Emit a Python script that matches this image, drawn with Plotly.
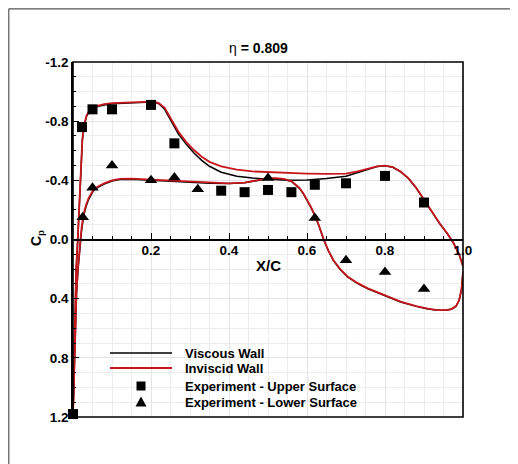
import plotly.graph_objects as go

# ---------------- data ----------------
title_text = "η <b>= 0.809</b>"

# Inviscid wall, upper surface
up_x_inv = [0.0, 0.003, 0.005, 0.008, 0.012, 0.016, 0.020, 0.024, 0.029, 0.035, 0.042, 0.05,
            0.065, 0.08, 0.1, 0.14, 0.18, 0.2, 0.21, 0.22, 0.235, 0.25, 0.27, 0.29, 0.31, 0.33,
            0.35, 0.38, 0.42, 0.46, 0.5, 0.55, 0.6, 0.65, 0.7, 0.73, 0.76, 0.78, 0.8, 0.82, 0.84,
            0.86, 0.88, 0.9, 0.92, 0.94, 0.96, 0.975, 0.99, 1.0]
up_cp_inv = [1.18, 0.8, 0.45, 0.2, 0.0, -0.25, -0.5, -0.68, -0.78, -0.84, -0.87, -0.89,
             -0.905, -0.915, -0.922, -0.928, -0.932, -0.932, -0.93, -0.922, -0.89, -0.82, -0.73,
             -0.66, -0.605, -0.56, -0.525, -0.495, -0.472, -0.46, -0.455, -0.45, -0.446, -0.443,
             -0.445, -0.46, -0.48, -0.495, -0.5, -0.49, -0.46, -0.415, -0.35, -0.27, -0.19, -0.11,
             -0.04, 0.02, 0.1, 0.18]

# Viscous wall, upper surface
up_x_vis = [0.0, 0.003, 0.005, 0.008, 0.012, 0.016, 0.020, 0.024, 0.029, 0.035, 0.042, 0.05,
            0.065, 0.08, 0.1, 0.14, 0.18, 0.2, 0.21, 0.22, 0.235, 0.25, 0.27, 0.29, 0.31, 0.33,
            0.35, 0.38, 0.42, 0.46, 0.5, 0.55, 0.6, 0.65, 0.7, 0.73, 0.76, 0.78, 0.8, 0.82, 0.84,
            0.86, 0.88, 0.9, 0.92, 0.94, 0.96, 0.975, 0.99, 1.0]
up_cp_vis = [1.18, 0.82, 0.47, 0.22, 0.02, -0.23, -0.48, -0.67, -0.775, -0.835, -0.865, -0.885,
             -0.9, -0.91, -0.918, -0.924, -0.928, -0.93, -0.928, -0.918, -0.88, -0.805, -0.715,
             -0.645, -0.585, -0.535, -0.495, -0.455, -0.428, -0.415, -0.407, -0.4, -0.402, -0.412,
             -0.428, -0.452, -0.478, -0.493, -0.498, -0.488, -0.458, -0.413, -0.348, -0.268,
             -0.188, -0.108, -0.038, 0.022, 0.1, 0.18]

# Inviscid wall, lower surface
lo_x_inv = [0.0, 0.003, 0.006, 0.009, 0.013, 0.018, 0.022, 0.027, 0.033, 0.04, 0.052, 0.065,
            0.08, 0.1, 0.12, 0.15, 0.2, 0.25, 0.3, 0.35, 0.4, 0.44, 0.48, 0.5, 0.52, 0.54, 0.56,
            0.57, 0.58, 0.59, 0.6, 0.61, 0.62, 0.63, 0.643, 0.655, 0.668, 0.685, 0.704, 0.73,
            0.756, 0.8, 0.84, 0.88, 0.91, 0.935, 0.955, 0.97, 0.982, 0.99, 0.996, 1.0]
lo_cp_inv = [1.18, 0.85, 0.5, 0.35, 0.18, 0.03, -0.08, -0.17, -0.23, -0.28, -0.335, -0.36,
             -0.38, -0.4, -0.41, -0.412, -0.405, -0.4, -0.39, -0.383, -0.38, -0.385, -0.405,
             -0.413, -0.415, -0.41, -0.395, -0.375, -0.35, -0.315, -0.27, -0.22, -0.165, -0.1,
             0.0, 0.075, 0.14, 0.2, 0.25, 0.295, 0.33, 0.375, 0.42, 0.45, 0.468, 0.477, 0.477,
             0.47, 0.45, 0.41, 0.34, 0.22]

# Viscous wall, lower surface
lo_x_vis = lo_x_inv
lo_cp_vis = [1.18, 0.86, 0.52, 0.37, 0.2, 0.05, -0.06, -0.155, -0.22, -0.27, -0.328, -0.355,
             -0.375, -0.395, -0.405, -0.407, -0.4, -0.395, -0.386, -0.38, -0.378, -0.383,
             -0.402, -0.41, -0.412, -0.407, -0.392, -0.372, -0.347, -0.312, -0.267, -0.217,
             -0.162, -0.097, 0.003, 0.078, 0.143, 0.203, 0.253, 0.298, 0.333, 0.378, 0.422,
             0.452, 0.47, 0.479, 0.479, 0.472, 0.452, 0.412, 0.342, 0.22]

# Experiment
exp_up_x = [0.0, 0.023, 0.05, 0.10, 0.20, 0.26, 0.38, 0.44, 0.50, 0.56, 0.62, 0.70, 0.80, 0.90]
exp_up_cp = [1.18, -0.76, -0.88, -0.88, -0.91, -0.65, -0.33, -0.32, -0.335, -0.32, -0.37,
             -0.38, -0.43, -0.25]
exp_lo_x = [0.025, 0.05, 0.10, 0.20, 0.26, 0.32, 0.50, 0.62, 0.70, 0.80, 0.90]
exp_lo_cp = [-0.15, -0.35, -0.50, -0.40, -0.42, -0.34, -0.415, -0.145, 0.14, 0.22, 0.335]

x_tickvals = [0.2, 0.4, 0.6, 0.8, 1.0]
x_ticktext = ["0.2", "0.4", "0.6", "0.8", "1.0"]
y_tickvals = [-1.2, -0.8, -0.4, 0.0, 0.4, 0.8, 1.2]
y_ticktext = ["-1.2", "-0.8", "-0.4", "0.0", "0.4", "0.8", "1.2"]

legend_labels = ["Viscous Wall", "Inviscid Wall",
                 "Experiment - Upper Surface", "Experiment - Lower Surface"]

# ---------------- figure ----------------
FONT = "Liberation Sans, Arial, Helvetica, sans-serif"
RED = "#c8171c"
OFF = 8  # default page body margin
W, H = 518 - OFF, 464 - OFF
ML, MT = 73 - OFF, 62 - OFF
MR = W - (463 - OFF)
MB = H - (417 - OFF)
PW, PH = W - ML - MR, H - MT - MB


def px2paper(px, py):
    """convert a window pixel position to paper coordinates"""
    return (px - OFF - ML) / PW, (H - MB - (py - OFF)) / PH


fig = go.Figure()

fig.add_trace(go.Scatter(x=up_x_vis, y=up_cp_vis, mode="lines",
                         line=dict(color="black", width=1.5), showlegend=False))
fig.add_trace(go.Scatter(x=lo_x_vis, y=lo_cp_vis, mode="lines",
                         line=dict(color="black", width=1.5), showlegend=False))
fig.add_trace(go.Scatter(x=up_x_inv, y=up_cp_inv, mode="lines",
                         line=dict(color=RED, width=1.8), showlegend=False))
fig.add_trace(go.Scatter(x=lo_x_inv, y=lo_cp_inv, mode="lines",
                         line=dict(color=RED, width=1.8), showlegend=False))
fig.add_trace(go.Scatter(x=exp_up_x, y=exp_up_cp, mode="markers",
                         marker=dict(symbol="square", size=10, color="black"),
                         showlegend=False, cliponaxis=False))
fig.add_trace(go.Scatter(x=exp_lo_x, y=exp_lo_cp, mode="markers",
                         marker=dict(symbol="triangle-up", size=11, color="black"),
                         showlegend=False, cliponaxis=False))

shapes = []
# outer border: top and left edges only (the frame runs off the right/bottom of the picture)
bx0, by0 = px2paper(OFF + 0.8, OFF + 0.8)
bx1, by1 = px2paper(600, 560)
shapes.append(dict(type="line", xref="paper", yref="paper", x0=bx0, y0=by0, x1=bx1, y1=by0,
                   line=dict(color="#555555", width=1.2), layer="below"))
shapes.append(dict(type="line", xref="paper", yref="paper", x0=bx0, y0=by0, x1=bx0, y1=by1,
                   line=dict(color="#555555", width=1.2), layer="below"))
# plot frame
shapes.append(dict(type="rect", xref="paper", yref="paper", x0=0, y0=0, x1=1, y1=1,
                   line=dict(color="black", width=1.6), layer="above"))

# manual legend
lx0, _ = px2paper(110, 0)
lx1, _ = px2paper(172, 0)
mx, _ = px2paper(141, 0)
tx, _ = px2paper(183, 0)
rows_py = [353, 368, 386, 402]
rows = [px2paper(0, p)[1] for p in rows_py]
shapes.append(dict(type="line", xref="paper", yref="paper", x0=lx0, x1=lx1, y0=rows[0], y1=rows[0],
                   line=dict(color="black", width=1.5)))
shapes.append(dict(type="line", xref="paper", yref="paper", x0=lx0, x1=lx1, y0=rows[1], y1=rows[1],
                   line=dict(color=RED, width=1.8)))
shapes.append(dict(type="rect", xref="paper", yref="paper", xsizemode="pixel", ysizemode="pixel",
                   xanchor=mx, yanchor=rows[2], x0=-4.5, x1=4.5, y0=-4.5, y1=4.5,
                   fillcolor="black", line=dict(width=0)))
shapes.append(dict(type="path", xref="paper", yref="paper", xsizemode="pixel", ysizemode="pixel",
                   xanchor=mx, yanchor=rows[3], path="M-5.5,-4.5 L5.5,-4.5 L0,5.5 Z",
                   fillcolor="black", line=dict(width=0)))

annotations = []
for lab, ry in zip(legend_labels, rows):
    annotations.append(dict(text=lab, xref="paper", yref="paper", x=tx, y=ry,
                            xanchor="left", yanchor="middle", showarrow=False,
                            font=dict(family=FONT, size=13, color="black", weight="bold")))

tx_, ty_ = px2paper(258, 48)
annotations.append(dict(text=title_text, xref="paper", yref="paper", x=tx_, y=ty_,
                        xanchor="center", yanchor="middle", showarrow=False,
                        font=dict(family=FONT, size=14, color="black")))
xcx, xcy = px2paper(268, 265)
annotations.append(dict(text="<b>X/C</b>", xref="paper", yref="paper", x=xcx, y=xcy,
                        xanchor="center", yanchor="middle", showarrow=False,
                        font=dict(family=FONT, size=15, color="black")))
cpx, cpy = px2paper(37, 238)
annotations.append(dict(text="<b>C<sub>p</sub></b>", xref="paper", yref="paper", x=cpx, y=cpy,
                        xanchor="center", yanchor="middle", showarrow=False, textangle=-90,
                        font=dict(family=FONT, size=14, color="black")))

fig.update_layout(
    width=W, height=H,
    margin=dict(l=ML, r=MR, t=MT, b=MB),
    paper_bgcolor="white", plot_bgcolor="white",
    showlegend=False,
    shapes=shapes, annotations=annotations,
    xaxis=dict(range=[0, 1], tickvals=x_tickvals, ticktext=x_ticktext,
               ticks="inside", ticklen=6, tickwidth=1.2, tickcolor="black",
               showline=True, linecolor="black", linewidth=1.6,
               anchor="free", position=0.5, ticklabelstandoff=-2,
               showgrid=True, gridcolor="#e4e4e4", gridwidth=1, zeroline=False,
               tickfont=dict(family=FONT, size=13.5, color="black", weight="bold"),
               minor=dict(dtick=0.05, tick0=0, ticks="inside", ticklen=3, tickcolor="black",
                          showgrid=True, gridcolor="#ececec")),
    yaxis=dict(range=[1.2, -1.2], tickvals=y_tickvals, ticktext=y_ticktext,
               ticks="inside", ticklen=6, tickwidth=1.2, tickcolor="black",
               showline=True, linecolor="black", linewidth=1.6,
               showgrid=True, gridcolor="#e4e4e4", gridwidth=1, zeroline=False,
               tickfont=dict(family=FONT, size=13.5, color="black", weight="bold"),
               minor=dict(dtick=0.1, tick0=0, ticks="inside", ticklen=3, tickcolor="black",
                          showgrid=True, gridcolor="#ececec")),
)

fig.write_html("out.html")
